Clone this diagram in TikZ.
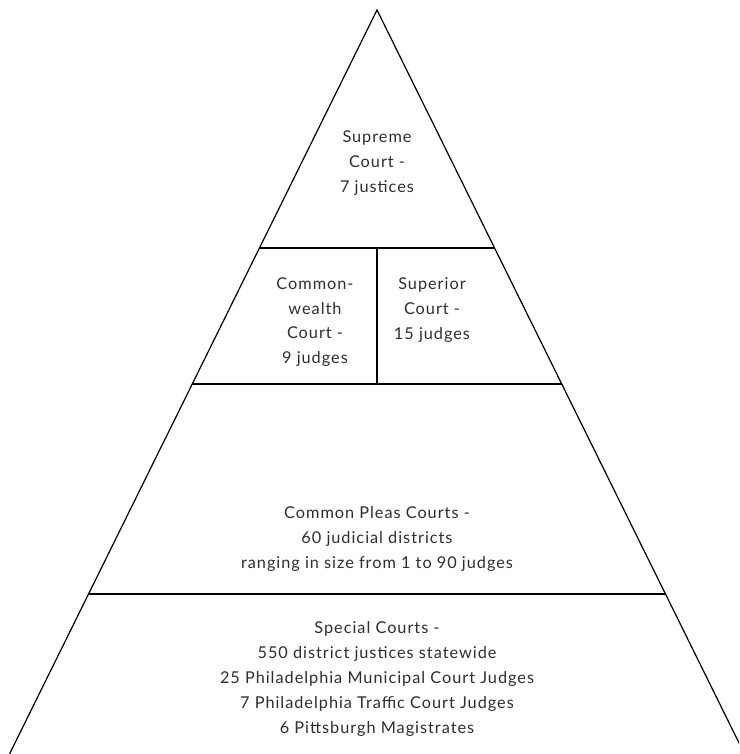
\documentclass[tikz,border=0pt]{standalone}
\usepackage{fontspec}
\setmainfont{Lato}[LetterSpace=6]
\begin{document}
\begin{tikzpicture}[x=1pt,y=-1pt,
  edge/.style={draw=black,line width=1.2pt},
  lbl/.style={align=center,font=\fontsize{16.3}{24.8}\selectfont,text=black!82,inner sep=0pt}]
\useasboundingbox (0,0) rectangle (739,754);
\begin{scope}
\clip (0,0) rectangle (739,754);
\coordinate (apex) at (377,10);
\coordinate (bl) at (9.5,754);
\coordinate (br) at (744.5,754);
\draw[edge,line join=miter] (bl) -- (apex) -- (br);
\end{scope}
\coordinate (a1) at (259.4,248);
\coordinate (b1) at (494.6,248);
\coordinate (a2) at (192.2,384);
\coordinate (b2) at (561.8,384);
\coordinate (a3) at (88.5,594);
\coordinate (b3) at (665.5,594);
\coordinate (m1) at (377,248);
\coordinate (m2) at (377,384);
\draw[edge] (a1) -- (b1);
\draw[edge] (a2) -- (b2);
\draw[edge] (a3) -- (b3);
\draw[edge] (m1) -- (m2);
\node[lbl] (sup) at (377,163) {Supreme\\Court -\\7 justices};
\node[lbl] (cw) at (315,322) {Common-\\wealth\\Court -\\9 judges};
\node[lbl] (spc) at (432,310) {Superior\\Court -\\15 judges};
\node[lbl] (cp) at (377,539) {Common Pleas Courts -\\60 judicial districts\\ranging in size from 1 to 90 judges};
\node[lbl] (sc) at (377,679) {Special Courts -\\550 district justices statewide\\25 Philadelphia Municipal Court Judges\\7 Philadelphia Traffic Court Judges\\6 Pittsburgh Magistrates};
\end{tikzpicture}
\end{document}
